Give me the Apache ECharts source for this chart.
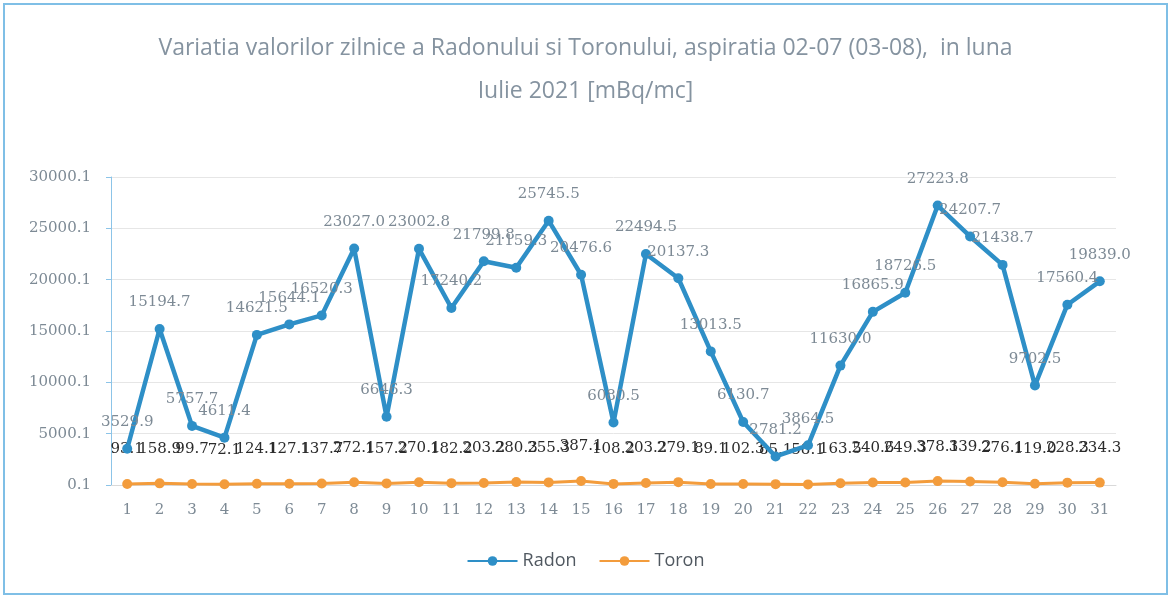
<!DOCTYPE html>
<html>
<head>
<meta charset="utf-8">
<script src="https://cdn.jsdelivr.net/npm/echarts@6/dist/echarts.min.js"></script>
<style>
  html, body { margin: 0; padding: 0; background: #fff; }
  #chart { width: 1171px; height: 597px; }
</style>
</head>
<body>
<div id="chart"></div>
<script>
// zilele lunii iulie 2021
var days = ['1', '2', '3', '4', '5', '6', '7', '8', '9', '10', '11', '12', '13', '14', '15', '16',
  '17', '18', '19', '20', '21', '22', '23', '24', '25', '26', '27', '28', '29', '30', '31']
var radon = [3529.9, 15194.7, 5757.7, 4611.4, 14621.5, 15644.1, 16520.3, 23027.0, 6646.3, 23002.8,
  17240.2, 21799.8, 21159.3, 25745.5, 20476.6, 6080.5, 22494.5, 20137.3, 13013.5, 6130.7,
  2781.2, 3864.5, 11630.0, 16865.9, 18726.5, 27223.8, 24207.7, 21438.7, 9702.5, 17560.4, 19839.0]
var toron = [93.1, 158.9, 99.7, 72.1, 124.1, 127.1, 137.7, 272.1, 157.2, 270.1,
  182.2, 203.2, 280.3, 255.3, 387.1, 108.2, 203.2, 279.1, 89.1, 102.3,
  85.1, 58.1, 163.5, 240.6, 249.3, 378.1, 339.2, 276.1, 119.0, 228.3, 234.3]
var yTicks = ['0.1', '5000.1', '10000.1', '15000.1', '20000.1', '25000.1', '30000.1']

var labelFont = 'DejaVu Serif'

var chart = echarts.init(document.getElementById('chart'))
chart.setOption({
  backgroundColor: '#fff',
  animation: false,
  title: {
    text: 'Variatia valorilor zilnice a Radonului si Toronului, aspiratia 02-07 (03-08),  in luna\nIulie 2021 [mBq/mc]',
    left: 'center',
    top: 22,
    textStyle: {
      fontFamily: 'Open Sans',
      fontSize: 23,
      fontWeight: 'normal',
      color: '#8593a0',
      lineHeight: 43
    }
  },
  legend: {
    bottom: 22,
    left: 'center',
    itemWidth: 50,
    itemHeight: 12,
    itemGap: 22,
    textStyle: { fontFamily: 'Open Sans', fontSize: 18, color: '#505860' },
    data: ['Radon', 'Toron']
  },
  grid: { left: 111, right: 55, top: 177, bottom: 112 },
  xAxis: {
    type: 'category',
    data: days,
    axisLine: { show: true, lineStyle: { color: '#d9d9d9' } },
    axisTick: { show: false },
    axisLabel: { fontFamily: labelFont, fontSize: 15, color: '#7d8a95', margin: 18 }
  },
  yAxis: {
    type: 'value',
    min: 0,
    max: 30000,
    interval: 5000,
    axisLine: { show: true, lineStyle: { color: '#8cc4e8' } },
    axisTick: { show: true, length: 5, lineStyle: { color: '#8cc4e8' } },
    splitLine: { lineStyle: { color: '#e6e6e6' } },
    axisLabel: {
      fontFamily: labelFont,
      fontSize: 15,
      color: '#7d8a95',
      margin: 20,
      formatter: function(v) { return yTicks[v / 5000] }
    }
  },
  series: [
    {
      name: 'Radon',
      type: 'line',
      data: radon,
      symbol: 'circle',
      symbolSize: 10,
      lineStyle: { width: 4.5, color: '#2e8fc7' },
      itemStyle: { color: '#2e8fc7' },
      label: {
        show: true,
        position: 'top',
        distance: 14,
        fontFamily: labelFont,
        fontSize: 15,
        color: '#7d8a95',
        formatter: function(p) { return p.value.toFixed(1) }
      },
      z: 3
    },
    {
      name: 'Toron',
      type: 'line',
      data: toron,
      symbol: 'circle',
      symbolSize: 10,
      lineStyle: { width: 3, color: '#f39c3c' },
      itemStyle: { color: '#f39c3c' },
      label: {
        show: true,
        position: 'top',
        distance: 22,
        fontFamily: labelFont,
        fontSize: 15,
        color: '#2b2b2b',
        formatter: function(p) { return p.value.toFixed(1) }
      },
      z: 2
    }
  ],
  graphic: [
    {
      type: 'rect',
      shape: { x: 4, y: 4, width: 1163, height: 590 },
      style: { fill: 'none', stroke: '#7fbfe6', lineWidth: 2 },
      silent: true
    }
  ]
})
</script>
</body>
</html>
